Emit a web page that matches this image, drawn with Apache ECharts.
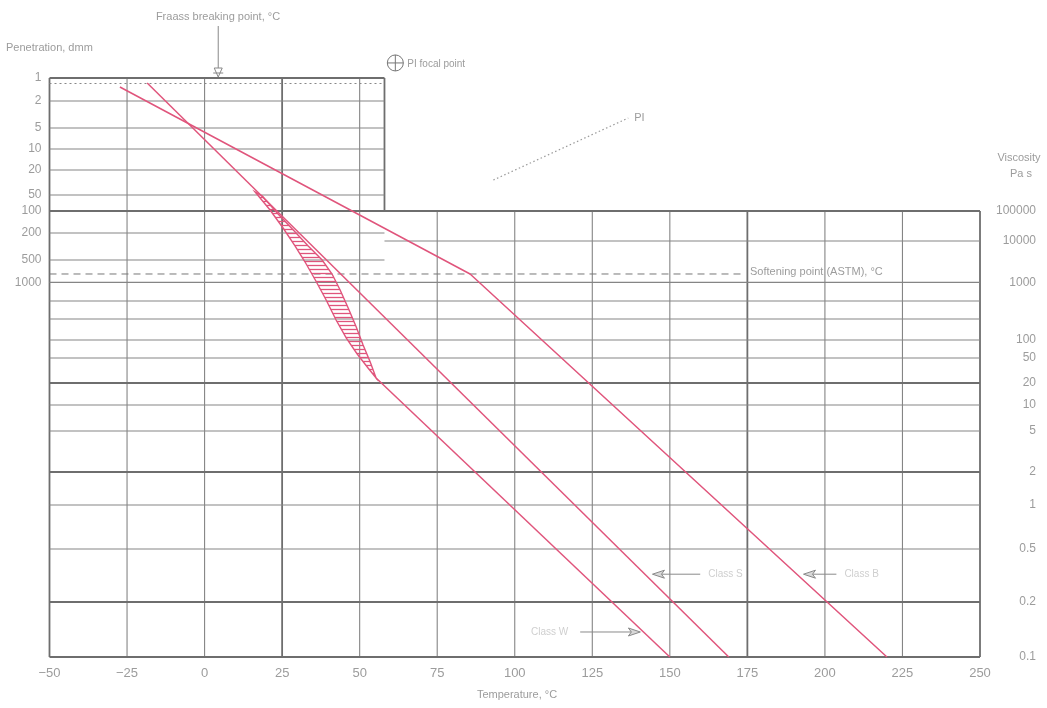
<!DOCTYPE html>
<html><head><meta charset="utf-8">
<script src="https://cdn.jsdelivr.net/npm/echarts@6/dist/echarts.min.js"></script>
<style>html,body{margin:0;padding:0;background:#fff}#c{width:1047px;height:708px}</style>
</head><body><div id="c"></div>
<script>
// ---------- data (temperature in °C, vertical scale in chart units 0..100) ----------
const tempTicks = [-50, -25, 0, 25, 50, 75, 100, 125, 150, 175, 200, 225, 250];
const penLabels = ['1', '2', '5', '10', '20', '50', '100', '200', '500', '1000'];
const penLevels = [100, 96.03, 91.36, 87.74, 84.11, 79.79, 77.03, 73.23, 68.57, 64.7];
const viscLabels = ['100000', '10000', '1000', '100', '50', '20', '10', '5', '2', '1', '0.5', '0.2', '0.1'];
const viscLevels = [77.03, 71.85, 64.7, 54.75, 51.64, 47.32, 43.52, 39.03, 31.95, 26.25, 18.65, 9.5, 0];
const viscMinorLevels = [61.48, 58.38];
const boldLevels = [77.03, 47.32, 31.95, 9.5];
const penBoxEdgeT = 58;
const fraassT = 4.4;
const fraassLevel = 99.05;
const softeningLevel = 66.15;
const softeningLineEndT = 174;

const classB = [[-27.3, 98.45], [85.6, 66.15], [220, 0]];
const classS = [[-18.5, 99.14], [169, 0]];
const classW = [[55.3, 48.19], [150, 0]];
const classWBand = [
  [16.3, 80.31], [21.1, 77.2], [25.3, 74.09], [29.2, 70.98], [32.4, 68.22], [35.7, 65.11],
  [39.2, 61.66], [42.4, 58.2], [45.7, 55.09], [49.2, 52.33], [52.7, 49.91], [55.3, 48.19],
  [53.4, 50.95], [51.1, 53.89], [48.9, 56.99], [46.3, 60.28], [43.7, 63.39], [41.1, 66.15],
  [37.9, 68.57], [33.4, 70.98], [28.6, 73.75], [23.7, 76.51], [18.6, 79.62]
];
const piLine = [[93.1, 82.38], [136.6, 93.09]];
const piFocal = [61.5, 102.6];
const classArrows = [
  {label: 'Class S', tip: [144.4, 14.3], tail: [159.8, 14.3], dir: 'left'},
  {label: 'Class B', tip: [193.1, 14.3], tail: [203.7, 14.3], dir: 'left'},
  {label: 'Class W', tip: [140.5, 4.32], tail: [121.1, 4.32], dir: 'right'}
];

// ---------- styles ----------
const RED = '#e0557c';
const GRID = '#858585';
const TXT = '#9c9c9c';
const FONT = '"Liberation Sans", Arial, sans-serif';

const pc = document.createElement('canvas');
pc.width = 6; pc.height = 4;
const g = pc.getContext('2d');
g.strokeStyle = RED; g.lineWidth = 1.3;
g.beginPath(); g.moveTo(0, 1.5); g.lineTo(6, 1.5); g.stroke();

function findLabel(levels, labels, v) {
  for (let i = 0; i < levels.length; i++) if (Math.abs(levels[i] - v) < 1e-6) return labels[i];
  return '';
}

function seg(api, a, b, style) {
  const p1 = api.coord(a), p2 = api.coord(b);
  return {type: 'line', shape: {x1: p1[0], y1: p1[1], x2: p2[0], y2: p2[1]}, style: style};
}

function renderGrid(params, api) {
  const ch = [];
  const thin = {stroke: GRID, lineWidth: 1.1};
  const bold = {stroke: '#6e6e6e', lineWidth: 1.8};
  const stepLevel = viscLevels[0];
  tempTicks.forEach(function (t) {
    const top = t <= penBoxEdgeT ? 100 : stepLevel;
    const st = (t === -50 || t === 250 || t === 25 || t === 175) ? bold : thin;
    ch.push(seg(api, [t, 0], [t, top], st));
  });
  ch.push(seg(api, [penBoxEdgeT, stepLevel], [penBoxEdgeT, 100], bold));
  ch.push(seg(api, [-50, 100], [penBoxEdgeT, 100], bold));
  penLevels.forEach(function (l, i) {
    if (l === 100 || l === stepLevel || i === penLevels.length - 1) return;
    ch.push(seg(api, [-50, l], [penBoxEdgeT, l], thin));
  });
  viscLevels.forEach(function (l, i) {
    const st = boldLevels.indexOf(l) >= 0 || l === 0 ? bold : thin;
    if (i === 1) ch.push(seg(api, [penBoxEdgeT, l], [250, l], st));
    else ch.push(seg(api, [-50, l], [250, l], st));
  });
  viscMinorLevels.forEach(function (l) { ch.push(seg(api, [-50, l], [250, l], thin)); });
  // softening point dashed line
  ch.push(seg(api, [-50, softeningLevel], [softeningLineEndT, softeningLevel], {stroke: '#777', lineWidth: 1, lineDash: [7, 5]}));
  // Fraass dotted line
  ch.push(seg(api, [-50, fraassLevel], [penBoxEdgeT, fraassLevel], {stroke: '#888', lineWidth: 1, lineDash: [2, 3]}));
  // Fraass arrow
  const fa = api.coord([fraassT, 100]);
  ch.push({type: 'line', shape: {x1: fa[0], y1: 26, x2: fa[0], y2: fa[1] - 2}, style: {stroke: '#888', lineWidth: 1}});
  ch.push({type: 'polygon', shape: {points: [[fa[0] - 4, fa[1] - 10], [fa[0] + 4, fa[1] - 10], [fa[0], fa[1] - 1]]}, style: {fill: '#fff', stroke: '#888', lineWidth: 1}});
  ch.push({type: 'line', shape: {x1: fa[0] - 5, y1: fa[1] - 5, x2: fa[0] + 5, y2: fa[1] - 5}, style: {stroke: '#888', lineWidth: 1}});
  // PI dotted line and label
  ch.push(seg(api, piLine[0], piLine[1], {stroke: '#999', lineWidth: 1.2, lineDash: [1.5, 2.5]}));
  const pe = api.coord(piLine[1]);
  ch.push({type: 'text', x: pe[0] + 6, y: pe[1], style: {text: 'PI', fill: TXT, font: '11px ' + FONT, verticalAlign: 'middle'}});
  // PI focal point
  const pf = api.coord(piFocal);
  ch.push({type: 'circle', shape: {cx: pf[0], cy: pf[1], r: 8}, style: {fill: 'none', stroke: '#777', lineWidth: 1}});
  ch.push({type: 'line', shape: {x1: pf[0] - 8, y1: pf[1], x2: pf[0] + 8, y2: pf[1]}, style: {stroke: '#777', lineWidth: 1}});
  ch.push({type: 'line', shape: {x1: pf[0], y1: pf[1] - 8, x2: pf[0], y2: pf[1] + 8}, style: {stroke: '#777', lineWidth: 1}});
  ch.push({type: 'text', x: pf[0] + 12, y: pf[1] + 1, style: {text: 'PI focal point', fill: TXT, font: '10px ' + FONT, verticalAlign: 'middle'}});
  // class arrows
  classArrows.forEach(function (a) {
    const tp = api.coord(a.tip), tl = api.coord(a.tail);
    const s = a.dir === 'left' ? 1 : -1;
    ch.push({type: 'line', shape: {x1: tp[0] + s * 8, y1: tp[1], x2: tl[0], y2: tl[1]}, style: {stroke: '#8a8a8a', lineWidth: 1}});
    ch.push({type: 'polygon', shape: {points: [[tp[0], tp[1]], [tp[0] + s * 12, tp[1] - 4], [tp[0] + s * 9, tp[1]], [tp[0] + s * 12, tp[1] + 4]]}, style: {fill: '#d8d8d8', stroke: '#8a8a8a', lineWidth: 1}});
    ch.push({type: 'text', x: tl[0] + (a.dir === 'left' ? 8 : -12), y: tl[1], style: {text: a.label, fill: '#cfcfcf', font: '10px ' + FONT, verticalAlign: 'middle', align: a.dir === 'left' ? 'left' : 'right'}});
  });
  return {type: 'group', children: ch};
}

function renderBand(params, api) {
  const pts = classWBand.map(function (p) { return api.coord(p); });
  return {type: 'polygon', shape: {points: pts}, style: {fill: {image: pc, repeat: 'repeat'}, stroke: RED, lineWidth: 1.4}};
}

const chart = echarts.init(document.getElementById('c'), null, {renderer: 'canvas'});
const lineStyle = {color: RED, width: 1.5};
chart.setOption({
  animation: false,
  backgroundColor: '#fff',
  grid: {left: 49.5, right: 67, top: 78, bottom: 51},
  xAxis: {
    type: 'value', min: -50, max: 250, interval: 25,
    axisLine: {show: false}, axisTick: {show: false}, splitLine: {show: false},
    axisLabel: {color: TXT, fontSize: 13, fontFamily: FONT, margin: 10,
      formatter: function (v) { return v < 0 ? '\u2212' + Math.abs(v) : String(v); }}
  },
  yAxis: [
    {type: 'value', min: 0, max: 100, position: 'left',
      axisLine: {show: false}, axisTick: {show: false}, splitLine: {show: false},
      axisLabel: {customValues: penLevels, color: TXT, fontSize: 12, fontFamily: FONT, margin: 8,
        formatter: function (v) { return findLabel(penLevels, penLabels, v); }}},
    {type: 'value', min: 0, max: 100, position: 'right',
      axisLine: {show: false}, axisTick: {show: false}, splitLine: {show: false},
      axisLabel: {customValues: viscLevels, color: TXT, fontSize: 12, fontFamily: FONT, margin: 56, align: 'right',
        formatter: function (v) { return findLabel(viscLevels, viscLabels, v); }}}
  ],
  graphic: [
    {type: 'text', left: 'center', x: 0, style: {text: ''}},
    {type: 'text', x: 218, y: 17, style: {text: 'Fraass breaking point, \u00B0C', fill: TXT, font: '11px ' + FONT, align: 'center', verticalAlign: 'middle'}},
    {type: 'text', x: 6, y: 48, style: {text: 'Penetration, dmm', fill: TXT, font: '11px ' + FONT, verticalAlign: 'middle'}},
    {type: 'text', x: 1019, y: 158, style: {text: 'Viscosity', fill: TXT, font: '11px ' + FONT, align: 'center', verticalAlign: 'middle'}},
    {type: 'text', x: 1021, y: 174, style: {text: 'Pa s', fill: TXT, font: '11px ' + FONT, align: 'center', verticalAlign: 'middle'}},
    {type: 'text', x: 750, y: 272, style: {text: 'Softening point (ASTM), \u00B0C', fill: TXT, font: '11px ' + FONT, verticalAlign: 'middle'}},
    {type: 'text', x: 517, y: 695, style: {text: 'Temperature, \u00B0C', fill: TXT, font: '11px ' + FONT, align: 'center', verticalAlign: 'middle'}}
  ],
  series: [
    {type: 'custom', renderItem: renderGrid, data: [0], silent: true, z: 1},
    {type: 'custom', renderItem: renderBand, data: [0], silent: true, z: 3},
    {type: 'line', name: 'Class B', data: classB, symbol: 'none', lineStyle: lineStyle, z: 4},
    {type: 'line', name: 'Class S', data: classS, symbol: 'none', lineStyle: lineStyle, z: 4},
    {type: 'line', name: 'Class W', data: classW, symbol: 'none', lineStyle: lineStyle, z: 4}
  ]
});
</script></body></html>
